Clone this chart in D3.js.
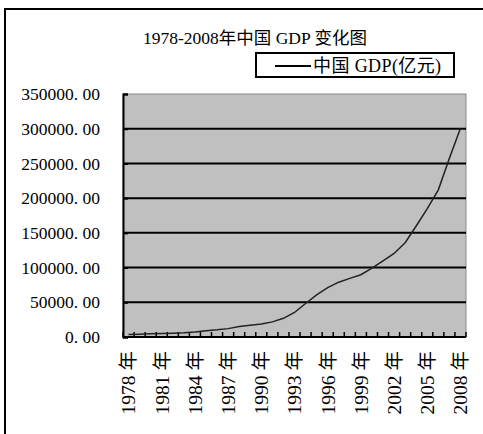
<!DOCTYPE html>
<html>
<head>
<meta charset="utf-8">
<script src="https://cdn.jsdelivr.net/npm/d3@7"></script>
<style>
  html, body { margin: 0; padding: 0; background: #fff; }
  svg { display: block; }
  text { font-family: "Liberation Serif", "Noto Sans CJK SC", serif; fill: #000; }
</style>
</head>
<body>
<script>
// China GDP 1978–2008, 100 million yuan
const years = d3.range(1978, 2009).map(String);
const gdp = [3645.2, 4062.6, 4545.6, 4891.6, 5323.4, 5962.7, 7208.1, 9016.0, 10275.2, 12058.6,
  15042.8, 16992.3, 18667.8, 21781.5, 26923.5, 35333.9, 48197.9, 60793.7, 71176.6, 78973.0,
  84402.3, 89677.1, 99214.6, 109655.2, 120332.7, 135822.8, 159878.3, 184937.4, 211923.5, 257305.6,
  300670.0];
const yTicks = [0, 50000, 100000, 150000, 200000, 250000, 300000, 350000];
const labelYears = years.filter((y, i) => i % 3 === 0);
const title = "1978-2008年中国 GDP 变化图";
const seriesName = "中国 GDP(亿元)";

const W = 483, H = 434;
const plot = { left: 123, top: 94, right: 466, bottom: 337 };

const svg = d3.select("body").append("svg").attr("width", W).attr("height", H);

// outer chart frame (runs off the right and bottom edge)
svg.append("rect")
  .attr("x", 5).attr("y", 9).attr("width", W + 10).attr("height", H + 10)
  .attr("fill", "#fff").attr("stroke", "#000").attr("stroke-width", 2);

const x = d3.scaleBand().domain(years).range([plot.left, plot.right]).padding(0);
const y = d3.scaleLinear().domain([0, 350000]).range([plot.bottom, plot.top]);

// plot background
svg.append("rect")
  .attr("x", plot.left).attr("y", plot.top)
  .attr("width", plot.right - plot.left).attr("height", plot.bottom - plot.top)
  .attr("fill", "#c0c0c0").attr("stroke", "#8a8a8a").attr("stroke-width", 1);

// horizontal gridlines
svg.append("g").selectAll("line")
  .data(yTicks.filter(v => v > 0 && v < 350000))
  .join("line")
  .attr("x1", plot.left).attr("x2", plot.right)
  .attr("y1", d => y(d)).attr("y2", d => y(d))
  .attr("stroke", "#000").attr("stroke-width", 2);

// y axis with inward ticks
const yAxis = d3.axisRight(y).tickValues(yTicks).tickSize(5).tickFormat("");
const gy = svg.append("g").attr("transform", `translate(${plot.left},0)`).call(yAxis);
gy.select(".domain").attr("stroke", "#000").attr("stroke-width", 2);
gy.selectAll(".tick line").attr("stroke", "#000").attr("stroke-width", 2);

// y labels
svg.append("g").selectAll("text")
  .data(yTicks)
  .join("text")
  .attr("x", 100).attr("y", d => y(d))
  .attr("dy", "0.35em")
  .attr("text-anchor", "end")
  .attr("font-size", 17.5)
  .text(d => d3.format(".2f")(d).replace(".", ". "));

// x axis: ticks between categories, pointing into the plot
const tickPositions = years.map(yr => x(yr)).concat([x(years[years.length - 1]) + x.bandwidth()]);
svg.append("line")
  .attr("x1", plot.left).attr("x2", plot.right)
  .attr("y1", plot.bottom).attr("y2", plot.bottom)
  .attr("stroke", "#000").attr("stroke-width", 2);
svg.append("g").selectAll("line")
  .data(tickPositions)
  .join("line")
  .attr("x1", d => d).attr("x2", d => d)
  .attr("y1", plot.bottom).attr("y2", plot.bottom - 5)
  .attr("stroke", "#000").attr("stroke-width", 1.5);

// x labels rotated, reading bottom to top
svg.append("g").selectAll("text")
  .data(labelYears)
  .join("text")
  .attr("transform", d => `translate(${x(d) + x.bandwidth() / 2},351) rotate(-90)`)
  .attr("dy", "0.35em")
  .attr("text-anchor", "end")
  .attr("font-size", 19.5)
  .text(d => d + " 年");

// GDP line
const line = d3.line()
  .x((d, i) => x(years[i]) + x.bandwidth() / 2)
  .y(d => y(d));
svg.append("path")
  .datum(gdp)
  .attr("d", line)
  .attr("fill", "none")
  .attr("stroke", "#222")
  .attr("stroke-width", 1.5);

// title
svg.append("text")
  .attr("x", 255).attr("y", 44)
  .attr("text-anchor", "middle")
  .attr("font-size", 17.5)
  .text(title);

// legend
const lg = svg.append("g");
lg.append("rect")
  .attr("x", 256).attr("y", 53).attr("width", 198).attr("height", 24)
  .attr("fill", "#fff").attr("stroke", "#000").attr("stroke-width", 2);
lg.append("line")
  .attr("x1", 275).attr("x2", 311).attr("y1", 66).attr("y2", 66)
  .attr("stroke", "#000").attr("stroke-width", 2);
lg.append("text")
  .attr("x", 313).attr("y", 66).attr("dy", "0.35em")
  .attr("font-size", 18)
  .attr("letter-spacing", 0.4)
  .text(seriesName);
</script>
</body>
</html>
